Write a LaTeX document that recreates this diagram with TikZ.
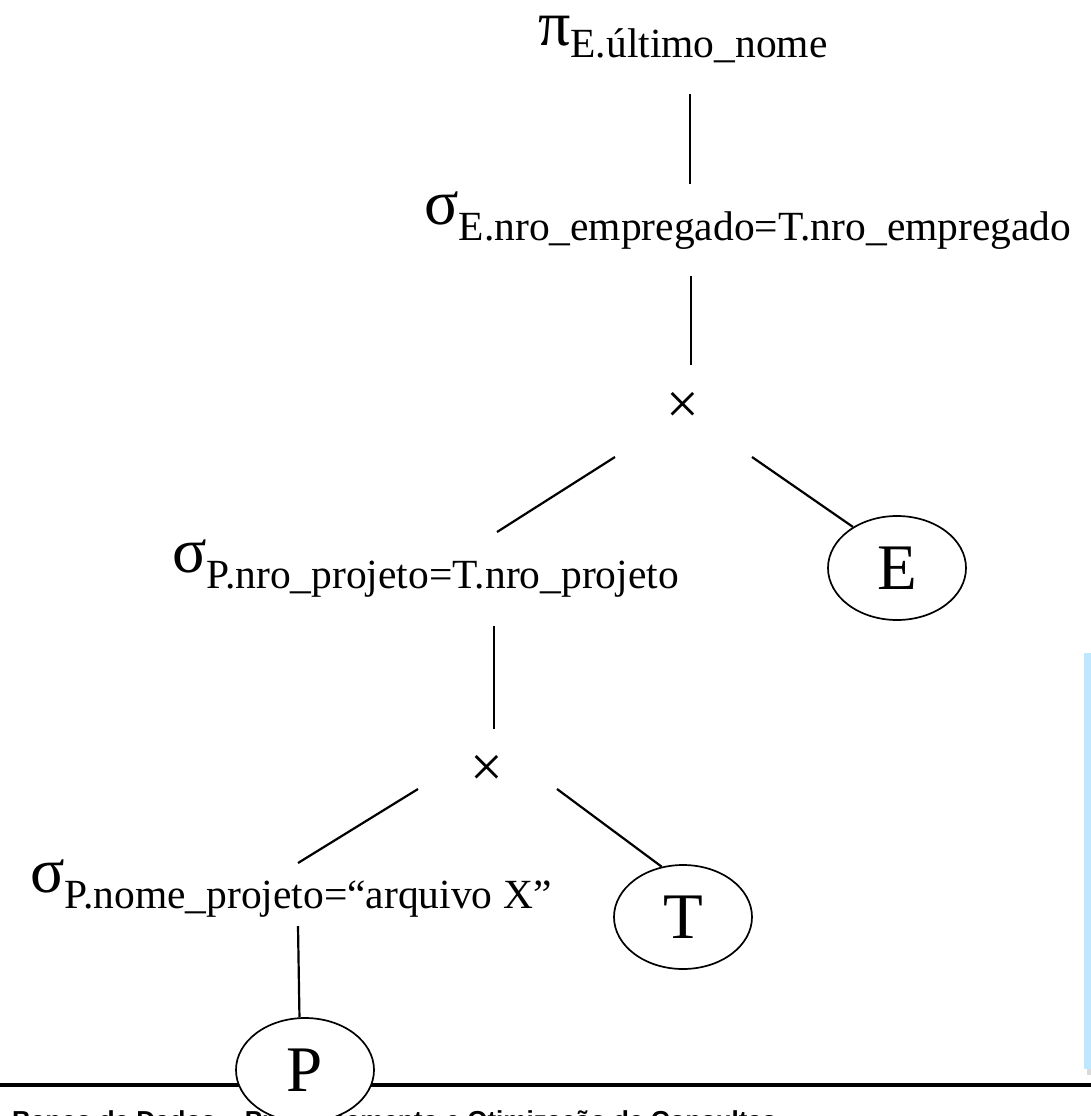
\documentclass[tikz,border=0pt]{standalone}
\usepackage{fontspec}
\setmainfont{Liberation Serif}
\newfontfamily\footfont{Liberation Sans}
\usetikzlibrary{shapes.geometric}

\definecolor{notebg}{RGB}{191,231,255}

% operator label: large Greek letter followed by a lowered condition
\newcommand{\opnode}[3]{{\fontsize{64}{64}\selectfont #1}\raisebox{-#3pt}{\fontsize{41.5}{41.5}\selectfont #2}}

\tikzset{
  rel/.style={draw, ellipse, line width=1.7pt, fill=white, minimum width=138pt,
              minimum height=104pt, inner sep=0pt, font=\fontsize{65}{65}\selectfont},
  edge/.style={line width=2.2pt},
  oplab/.style={anchor=base west, inner sep=0pt},
  prod/.style={inner sep=0pt, font=\fontsize{58}{58}\selectfont}
}

\begin{document}
\begin{tikzpicture}[x=1pt,y=-1pt]
\useasboundingbox (0,0) rectangle (1091,1116);
\fill[white] (0,0) rectangle (1091,1116);

% side note box (partly off the page) with its shadow
\fill[black!15] (1087,660) rectangle (1095,1075);
\fill[notebg] (1084,653) rectangle (1095,1069);

% footer, mostly below the page edge
\node[anchor=base west, inner sep=0pt, font=\footfont\bfseries\fontsize{26}{26}\selectfont]
  (foot) at (12,1129) {Banco de Dados – Processamento e Otimização de Consultas};
\draw[line width=4pt] (0,1085) -- (1091,1085);

% operator labels
\node[oplab] (proj) at (538,46) {\opnode{π}{E.último\_nome}{12}};
\node[oplab] (sel1) at (424,224) {\opnode{σ}{E.nro\_empregado=T.nro\_empregado}{16}};
\node[oplab] (sel2) at (172,572) {\opnode{σ}{P.nro\_projeto=T.nro\_projeto}{16}};
\node[oplab] (sel3) at (30,892) {\opnode{σ}{P.nome\_projeto=“arquivo X”}{16}};

% cartesian products
\node[prod] (x1) at (683,408) {×};
\node[prod] (x2) at (487,771) {×};

% relations
\node[rel] (E) at (897,568) {E};
\node[rel] (T) at (683,917) {T};
\node[rel] (P) at (305,1070) {P};

% connector end points
\coordinate (a1) at (690,94);   \coordinate (a2) at (690,184);
\coordinate (b1) at (691,276);  \coordinate (b2) at (691,365);
\coordinate (c1) at (615,457);  \coordinate (c2) at (497,532);
\coordinate (d1) at (752,457);
\coordinate (e1) at (494,626);  \coordinate (e2) at (494,729);
\coordinate (f1) at (418,789);  \coordinate (f2) at (298,863);
\coordinate (g1) at (557,789);
\coordinate (h1) at (298,926);

% connectors
\draw[edge] (a1) -- (a2);
\draw[edge] (b1) -- (b2);
\draw[edge] (c1) -- (c2);
\draw[edge] (d1) -- (E.137);
\draw[edge] (e1) -- (e2);
\draw[edge] (f1) -- (f2);
\draw[edge] (g1) -- (T.113);
\draw[edge] (h1) -- (P.96);
\end{tikzpicture}
\end{document}
